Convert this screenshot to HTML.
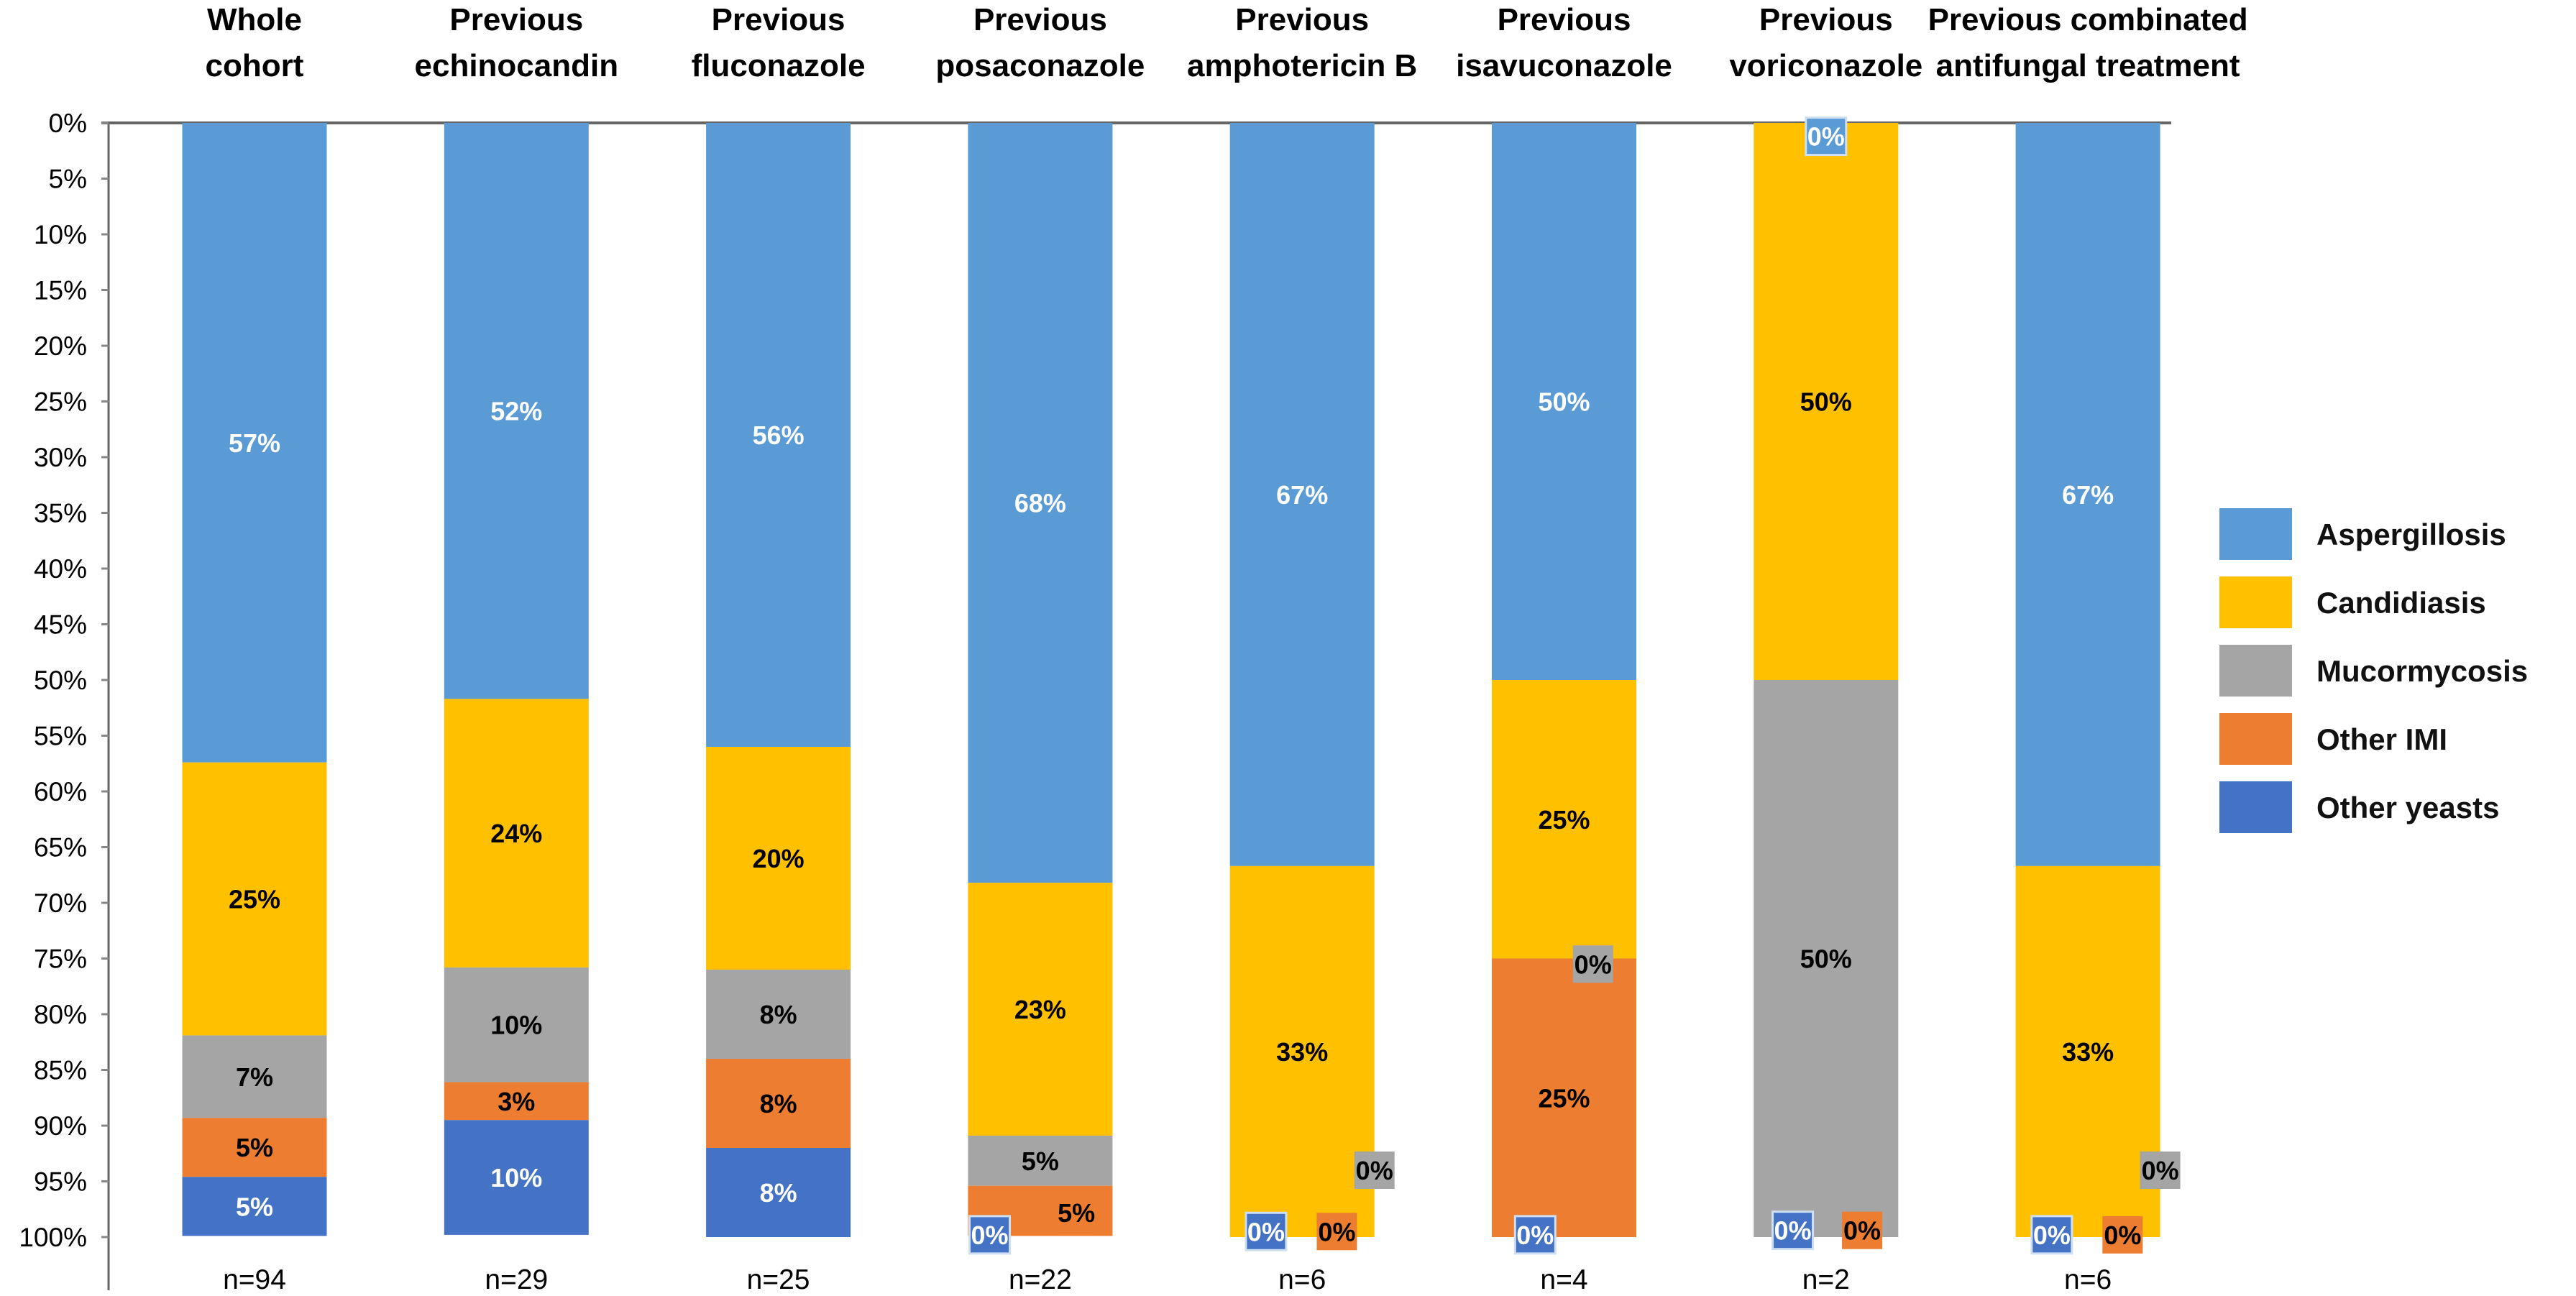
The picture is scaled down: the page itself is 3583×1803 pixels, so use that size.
<!DOCTYPE html>
<html><head><meta charset="utf-8"><style>
body{margin:0;background:#fff}
svg{display:block;font-family:"Liberation Sans",Arial,sans-serif}
</style></head><body>
<svg id="c" width="3583" height="1803" viewBox="0 0 3583 1803"></svg>
<script>
const categories=[["Whole","cohort"],["Previous","echinocandin"],["Previous","fluconazole"],["Previous","posaconazole"],["Previous","amphotericin B"],["Previous","isavuconazole"],["Previous","voriconazole"],["Previous combinated","antifungal treatment"]];
const nLabels=["n=94","n=29","n=25","n=22","n=6","n=4","n=2","n=6"];
const seriesNames=["Aspergillosis","Candidiasis","Mucormycosis","Other  IMI","Other yeasts"];
const aspergillosis=[57.4,51.7,56,68.2,66.7,50,0,66.7];
const candidiasis=[24.5,24.1,20,22.7,33.3,25,50,33.3];
const mucormycosis=[7.4,10.3,8,4.5,0,0,50,0];
const otherIMI=[5.3,3.4,8,4.5,0,25,0,0];
const otherYeasts=[5.3,10.3,8,0,0,0,0,0];
const valueLabels=[["57%","52%","56%","68%","67%","50%","0%","67%"],["25%","24%","20%","23%","33%","25%","50%","33%"],["7%","10%","8%","5%","0%","0%","50%","0%"],["5%","3%","8%","5%","0%","25%","0%","0%"],["5%","10%","8%","0%","0%","0%","0%","0%"]];
const yTicks=[0,5,10,15,20,25,30,35,40,45,50,55,60,65,70,75,80,85,90,95,100];
const series=[aspergillosis,candidiasis,mucormycosis,otherIMI,otherYeasts];
const colors=["#5b9bd5","#ffc000","#a5a5a5","#ed7d31","#4472c4"];
const textCol=["#fff","#000","#000","#000","#fff"];
// shifted boxed labels for tiny segments: [category, series, dx (fraction of bar width), y percent]
const boxed=[[3,4,-0.35,99.8],[3,3,0.25,97.8],[4,4,-0.25,99.5],[4,3,0.24,99.5],[4,2,0.5,94],[5,2,0.2,75.5],[5,4,-0.2,99.8],[6,0,0,1.2],[6,4,-0.23,99.4],[6,3,0.25,99.4],[7,4,-0.25,99.8],[7,3,0.24,99.8],[7,2,0.5,94]];
const svg=document.getElementById('c');const NS="http://www.w3.org/2000/svg";
const X0=151,Y0=171,Y1=1721,P0=354,PITCH=364.3,BW=201;
const y=p=>Y0+(Y1-Y0)*p/100;const cx=i=>P0+i*PITCH;
function el(t,a,txt){const e=document.createElementNS(NS,t);for(const k in a)e.setAttribute(k,a[k]);if(txt!=null)e.textContent=txt;svg.appendChild(e);return e;}
// axis
let ax=el('line',{x1:X0,y1:Y0,x2:X0,y2:1795,stroke:"#666","stroke-width":3});

let tl=el('line',{x1:X0-10,y1:Y0,x2:3020,y2:Y0,stroke:"#666","stroke-width":4});

yTicks.forEach(t=>{
 let k=el('line',{x1:X0-10,y1:y(t),x2:X0,y2:y(t),stroke:"#888","stroke-width":3});
 
 let l=el('text',{x:121,y:y(t)+13,"text-anchor":"end","font-size":37,fill:"#000"},t+"%");
 
});
categories.forEach((c,i)=>{
 let t1=el('text',{x:cx(i),y:42,"text-anchor":"middle","font-size":44,"font-weight":"bold",fill:"#000"},c[0]);
 
 let t2=el('text',{x:cx(i),y:106,"text-anchor":"middle","font-size":44,"font-weight":"bold",fill:"#000"},c[1]);
 
 let n=el('text',{x:cx(i),y:1793,"text-anchor":"middle","font-size":39,fill:"#000"},nLabels[i]);
 
 let acc=0;
 series.forEach((s,j)=>{
  const v=s[i];if(v<=0){return;}
  let r=el('rect',{x:cx(i)-BW/2,y:y(acc),width:BW,height:y(acc+v)-y(acc),fill:colors[j]});
  
  const isBoxed=boxed.some(b=>b[0]===i&&b[1]===j);
  if(!isBoxed){
   let l=el('text',{x:cx(i),y:(y(acc)+y(acc+v))/2+13,"text-anchor":"middle","font-size":36,"font-weight":"bold",fill:textCol[j]},valueLabels[j][i]);
   
  }
  acc+=v;
 });
});
boxed.forEach(b=>{
 const [i,j,dx,p]=b;const x=cx(i)+dx*BW,yy=y(p);
 const txt=valueLabels[j][i];const w=txt.length*21+14;
 let r=el('rect',{x:x-w/2,y:yy-26,width:w,height:52,fill:colors[j],stroke:j===4||j===0?"#cfe0f4":"none","stroke-width":3});
 
 let l=el('text',{x:x,y:yy+13,"text-anchor":"middle","font-size":36,"font-weight":"bold",fill:textCol[j]},txt);
 
});
seriesNames.forEach((nm,j)=>{
 const yc=743+j*95;
 let s=el('rect',{x:3087,y:yc-36,width:101,height:72,fill:colors[j]});
 
 let t=el('text',{x:3222,y:yc+15,"font-size":42,"font-weight":"bold",fill:"#111","xml:space":"preserve"},nm);
 
});
</script>
</body></html>
